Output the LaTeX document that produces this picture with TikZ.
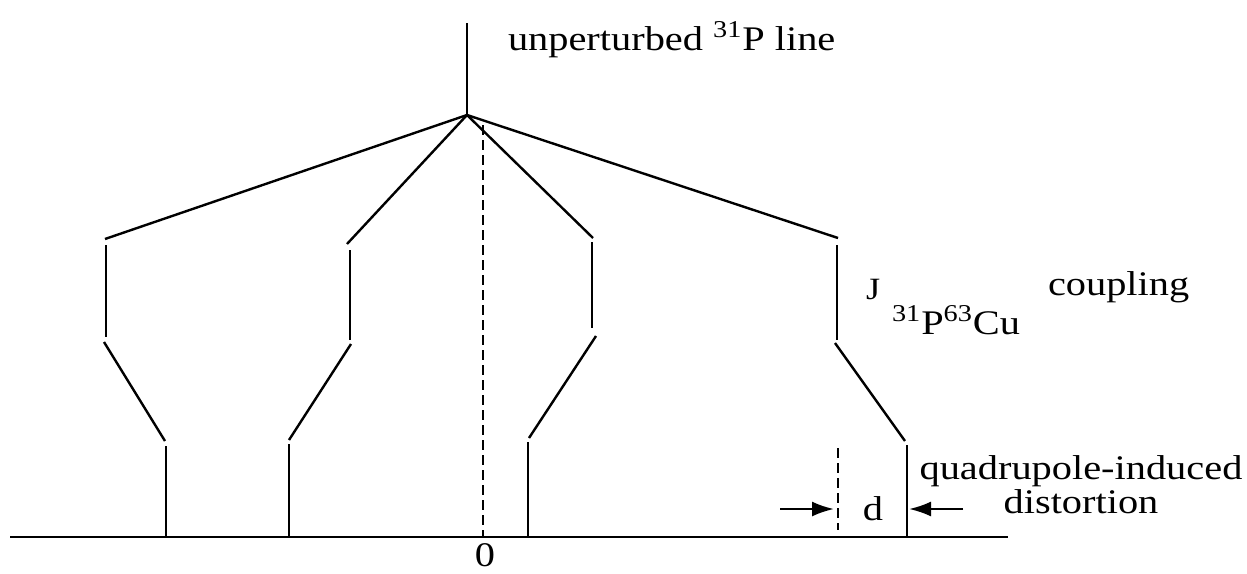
\documentclass[tikz,border=0pt]{standalone}
\usepackage{fontspec}
\setmainfont{Liberation Serif}[FakeStretch=1.17]
\usetikzlibrary{arrows.meta}
\begin{document}
\begin{tikzpicture}[x=0.5pt,y=-0.5pt,
  ln/.style={line width=1.2pt},
  dsh/.style={line width=1.1pt,dash pattern=on 5pt off 2.5pt},
  lbl/.style={inner sep=0pt,outer sep=0pt,font=\fontsize{17.25}{15.5}\selectfont},
  arr/.style={line width=1.2pt,-{Latex[length=11pt,width=7.5pt]}}]
\useasboundingbox (0,0) rectangle (1247,573);
% key points
\coordinate (T) at (467,23);
\coordinate (A) at (467,115);
\coordinate (Lo) at (105,239);
\coordinate (Li) at (347,244);
\coordinate (Ri) at (593,238);
\coordinate (Ro) at (838,238);
% unperturbed line and first splitting
\draw[ln] (T) -- (A);
\draw[ln] (A) -- (Lo);
\draw[ln] (A) -- (Li);
\draw[ln] (A) -- (Ri);
\draw[ln] (A) -- (Ro);
% left outer
\coordinate (Lo1) at (106,245); \coordinate (Lo2) at (106,337);
\coordinate (Lo3) at (104,342); \coordinate (Lo4) at (165,441);
\coordinate (Lo5) at (166,446); \coordinate (Lo6) at (166,537);
\draw[ln] (Lo1) -- (Lo2);
\draw[ln] (Lo3) -- (Lo4);
\draw[ln] (Lo5) -- (Lo6);
% inner left
\coordinate (Li1) at (350,250); \coordinate (Li2) at (350,340);
\coordinate (Li3) at (351,344); \coordinate (Li4) at (289,440);
\coordinate (Li5) at (289,444); \coordinate (Li6) at (289,537);
\draw[ln] (Li1) -- (Li2);
\draw[ln] (Li3) -- (Li4);
\draw[ln] (Li5) -- (Li6);
% inner right
\coordinate (Ri1) at (592,242); \coordinate (Ri2) at (592,328);
\coordinate (Ri3) at (596,336); \coordinate (Ri4) at (529,438);
\coordinate (Ri5) at (528,442); \coordinate (Ri6) at (528,537);
\draw[ln] (Ri1) -- (Ri2);
\draw[ln] (Ri3) -- (Ri4);
\draw[ln] (Ri5) -- (Ri6);
% right outer
\coordinate (Ro1) at (837,245); \coordinate (Ro2) at (837,340);
\coordinate (Ro3) at (835,343); \coordinate (Ro4) at (905,441);
\coordinate (Ro5) at (907,445); \coordinate (Ro6) at (907,537);
\draw[ln] (Ro1) -- (Ro2);
\draw[ln] (Ro3) -- (Ro4);
\draw[ln] (Ro5) -- (Ro6);
% dashed lines
\coordinate (C1) at (483,125); \coordinate (C2) at (483,537);
\draw[dsh] (C1) -- (C2);
\coordinate (D1) at (838,448); \coordinate (D2) at (838,530);
\draw[dsh] (D1) -- (D2);
% baseline
\coordinate (B1) at (10,537); \coordinate (B2) at (1008,537);
\draw[ln] (B1) -- (B2);
% d arrows
\coordinate (a1) at (780,509); \coordinate (a2) at (834,509);
\coordinate (b1) at (963,509); \coordinate (b2) at (909,509);
\draw[arr] (a1) -- (a2);
\draw[arr] (b1) -- (b2);
% labels
\node[lbl,anchor=base west] (unp) at (508,50) {unperturbed \textsuperscript{31}P line};
\node[lbl,anchor=base west,font=\fontsize{15.5}{15.5}\selectfont] (J) at (866,299) {J};
\node[lbl,anchor=base west] (PCu) at (892,334) {\textsuperscript{31}P\textsuperscript{63}Cu};
\node[lbl,anchor=base west] (coup) at (1048,295) {coupling};
\node[lbl,anchor=base,align=center] (quad) at (1081,513) {quadrupole-induced\\distortion};
\node[lbl,anchor=base] (d) at (873,520) {d};
\node[lbl,anchor=base] (zero) at (485,566) {0};
\end{tikzpicture}
\end{document}
